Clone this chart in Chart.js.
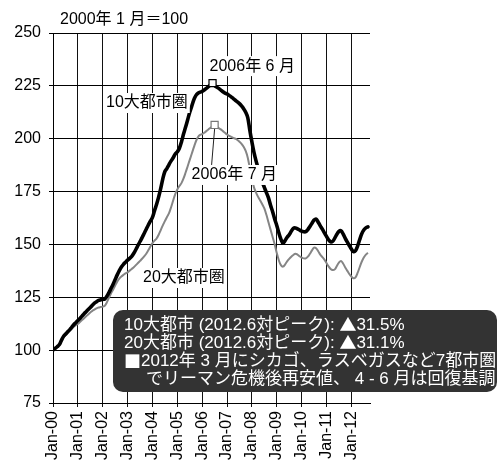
<!DOCTYPE html>
<html lang="ja">
<head>
<meta charset="utf-8">
<style>
  html, body { margin: 0; padding: 0; background: #fff; }
  #wrap { width: 497px; height: 463px; }
</style>
<script src="https://cdn.jsdelivr.net/npm/chart.js@4.4.1/dist/chart.umd.min.js"></script>
</head>
<body>
<div id="wrap"><canvas id="chart" width="497" height="463"></canvas></div>
<script>
"use strict";

// Case-Shiller style home price index, monthly from Jan 2000 (Jan 2000 = 100).

const xTickLabels = ["Jan-00", "Jan-01", "Jan-02", "Jan-03", "Jan-04", "Jan-05", "Jan-06",
  "Jan-07", "Jan-08", "Jan-09", "Jan-10", "Jan-11", "Jan-12"];
const yTicks = [75, 100, 125, 150, 175, 200, 225, 250];

// 10大都市圏 (one row per year)
const tenCity = [
  100.0, 100.8, 101.6, 102.5, 104.5, 106.4, 107.5, 108.6, 109.6, 110.8, 112.0, 113.0,
  114.0, 115.0, 116.1, 117.2, 118.2, 119.2, 120.2, 121.2, 122.2, 122.9, 123.5, 123.8,
  124.0, 124.2, 125.5, 127.2, 129.2, 131.2, 133.4, 135.6, 137.6, 139.3, 140.6, 141.6,
  142.6, 143.4, 144.4, 145.8, 147.6, 149.5, 151.4, 153.2, 155.2, 157.2, 159.2, 161.0,
  162.8, 166.0, 169.0, 172.5, 176.5, 181.0, 184.5, 186.0, 187.8, 189.5, 191.0, 192.8,
  193.8, 195.5, 198.5, 202.2, 205.5, 209.0, 212.5, 215.5, 218.5, 220.5, 221.5, 222.0,
  222.4, 223.0, 223.8, 224.6, 225.5, 226.3, 225.2, 224.4, 223.8, 223.0, 222.2, 221.6,
  221.2, 220.5, 219.8, 219.0, 218.2, 217.4, 216.6, 215.5, 214.2, 212.5, 210.0, 204.0,
  198.5, 193.5, 189.5, 186.0, 182.5, 179.5, 177.0, 174.5, 172.0, 168.5, 165.5, 162.0,
  159.0, 155.5, 152.5, 150.6, 151.8, 153.4, 154.6, 156.2, 157.6, 157.8, 157.4, 156.8,
  156.3, 156.0, 156.0, 157.0, 158.5, 160.0, 161.5, 162.0, 160.5, 158.8, 157.2, 155.5,
  153.8, 152.2, 151.2, 151.5, 153.0, 154.8, 156.2, 156.5, 155.0, 153.0, 151.2, 149.5,
  147.8, 146.6, 147.0, 149.2, 152.2, 155.0, 156.8, 157.8, 158.3,
];

// 20大都市圏
const twentyCity = [
  100.0, 100.5, 101.4, 102.6, 104.2, 105.8, 107.0, 108.0, 109.0, 110.0, 111.0, 111.8,
  112.4, 113.3, 114.2, 115.1, 116.0, 116.9, 117.8, 118.6, 119.2, 119.8, 120.2, 120.4,
  120.6, 121.0, 122.6, 124.8, 126.8, 128.6, 130.6, 132.4, 133.8, 134.8, 135.6, 136.3,
  136.8, 137.6, 138.4, 139.2, 140.2, 141.2, 142.2, 143.2, 144.3, 145.6, 147.2, 149.0,
  150.6, 151.8, 152.8, 154.6, 156.8, 159.0, 161.0, 163.0, 164.8, 167.6, 170.8, 173.8,
  176.0, 177.6, 179.0, 181.2, 184.0, 187.0, 190.0, 193.0, 196.0, 198.8, 200.8, 201.8,
  202.2, 202.8, 203.6, 204.4, 205.2, 205.9, 206.5, 205.6, 205.0, 204.4, 203.6, 202.8,
  202.0, 201.4, 200.9, 200.4, 200.0, 199.4, 198.6, 197.6, 196.2, 194.2, 191.0, 186.0,
  181.0, 177.0, 174.5, 172.5, 170.8, 169.0, 167.0, 164.0, 160.5, 157.0, 153.5, 150.0,
  146.0, 142.5, 140.2, 139.5, 140.5, 142.0, 143.2, 144.2, 145.0, 145.6, 145.2, 144.4,
  143.8, 143.4, 143.4, 144.2, 145.6, 147.2, 148.5, 148.2, 146.8, 145.2, 144.0, 142.8,
  141.2, 139.6, 138.4, 137.9, 138.2, 139.8, 141.4, 142.2, 141.0, 139.2, 137.6, 136.0,
  134.8, 134.0, 134.4, 136.5, 139.2, 141.8, 143.8, 145.2, 146.0,
];

const noteLines = [
  "10大都市 (2012.6対ピーク): ▲31.5%",
  "20大都市 (2012.6対ピーク): ▲31.1%",
  "■2012年 3 月にシカゴ、ラスベガスなど7都市圏",
  "でリーマン危機後再安値、 4 - 6 月は回復基調",
];

const FONT = '"Liberation Sans", "Noto Sans CJK JP", sans-serif';
const CJK = '"Noto Sans CJK JP", sans-serif';

// ---- helpers ----

const toPoints = (arr) => arr.map((v, i) => ({ x: i, y: v }));

function peakOf(arr) {
  let idx = 0;
  arr.forEach((v, i) => { if (v > arr[idx]) idx = i; });
  return { x: idx, y: arr[idx] };
}

const peak10 = peakOf(tenCity);
const peak20 = peakOf(twentyCity);

function textWithBg(ctx, text, left, cy) {
  ctx.font = `16px ${FONT}`;
  const w = ctx.measureText(text).width;
  ctx.fillStyle = "#fff";
  ctx.fillRect(left - 2, cy - 10, w + 4, 20);
  ctx.fillStyle = "#000";
  ctx.fillText(text, left, cy);
}

// symbols (▲ ■) come from the CJK font so they get full size
function mixedText(ctx, text, left, cy, size) {
  let x = left;
  for (const ch of text) {
    ctx.font = `${size}px ${"▲■".includes(ch) ? CJK : FONT}`;
    ctx.fillText(ch, x, cy);
    x += ctx.measureText(ch).width;
  }
}

// Labels, leader line and the note box go on top of everything
const overlay = {
  id: "overlay",
  afterDraw(chart) {
    const { ctx, scales: { x, y } } = chart;
    ctx.save();
    ctx.textAlign = "left";
    ctx.textBaseline = "middle";

    ctx.font = `16px ${FONT}`;
    ctx.fillStyle = "#000";
    ctx.fillText("2000年 1 月＝100", 60, 20);

    const p10x = x.getPixelForValue(peak10.x), p10y = y.getPixelForValue(peak10.y);
    const p20x = x.getPixelForValue(peak20.x), p20y = y.getPixelForValue(peak20.y);

    // leader from the 20-city peak down to its label
    ctx.strokeStyle = "#222";
    ctx.lineWidth = 1;
    ctx.beginPath();
    ctx.moveTo(p20x, p20y + 4);
    ctx.lineTo(p20x - 3, p20y + 40);
    ctx.stroke();

    textWithBg(ctx, "2006年 6 月", p10x - 3, p10y - 17);
    textWithBg(ctx, "10大都市圏", 106, 103);
    textWithBg(ctx, "2006年 7 月", p20x - 23, p20y + 50);
    textWithBg(ctx, "20大都市圏", 143, 278);

    // note box
    ctx.fillStyle = "#333";
    ctx.beginPath();
    ctx.roundRect(113, 310, 384, 82, 10);
    ctx.fill();
    ctx.fillStyle = "#fff";
    mixedText(ctx, noteLines[0], 124, 325, 17);
    mixedText(ctx, noteLines[1], 124, 343, 17);
    mixedText(ctx, noteLines[2], 124, 361.5, 17);
    mixedText(ctx, noteLines[3], 146, 379.5, 17);
    ctx.restore();
  },
};

new Chart(document.getElementById("chart"), {
  type: "line",
  data: {
    datasets: [
      {
        label: "peak10", data: [peak10], showLine: false, order: 0,
        pointStyle: "rect", pointRadius: 5, backgroundColor: "#fff",
        borderColor: "#000", borderWidth: 1.2,
      },
      {
        label: "peak20", data: [peak20], showLine: false, order: 0,
        pointStyle: "rect", pointRadius: 5, backgroundColor: "#fff",
        borderColor: "#777", borderWidth: 1.2,
      },
      {
        label: "10大都市圏", data: toPoints(tenCity), order: 1,
        borderColor: "#000", borderWidth: 3.6, pointRadius: 0,
        tension: 0.35, borderJoinStyle: "round", borderCapStyle: "round",
      },
      {
        label: "20大都市圏", data: toPoints(twentyCity), order: 2,
        borderColor: "#858585", borderWidth: 2, pointRadius: 0,
        tension: 0.35, borderJoinStyle: "round",
      },
    ],
  },
  options: {
    responsive: false,
    devicePixelRatio: 1,
    animation: false,
    layout: { padding: { top: 33, right: 127, left: 0, bottom: 0 } },
    plugins: { legend: { display: false }, tooltip: { enabled: false } },
    scales: {
      x: {
        type: "linear", min: 0, max: 153,
        afterBuildTicks: (s) => { s.ticks = xTickLabels.map((_, i) => ({ value: i * 12 })); },
        afterFit: (s) => { s.height = 60; },
        grid: { color: "#111", lineWidth: 1, tickLength: 4 },
        border: { color: "#000", width: 1 },
        ticks: {
          color: "#000", font: { family: FONT, size: 16 },
          minRotation: 90, maxRotation: 90, padding: 4,
          callback: (v) => xTickLabels[v / 12],
        },
      },
      y: {
        min: 75, max: 250,
        afterBuildTicks: (s) => { s.ticks = yTicks.map((v) => ({ value: v })); },
        afterFit: (s) => { s.width = 53; },
        grid: { color: "#000", lineWidth: 1, tickLength: 4 },
        border: { color: "#000", width: 1 },
        ticks: { color: "#000", font: { family: FONT, size: 16 }, padding: 8 },
      },
    },
  },
  plugins: [overlay],
});
</script>
</body>
</html>
